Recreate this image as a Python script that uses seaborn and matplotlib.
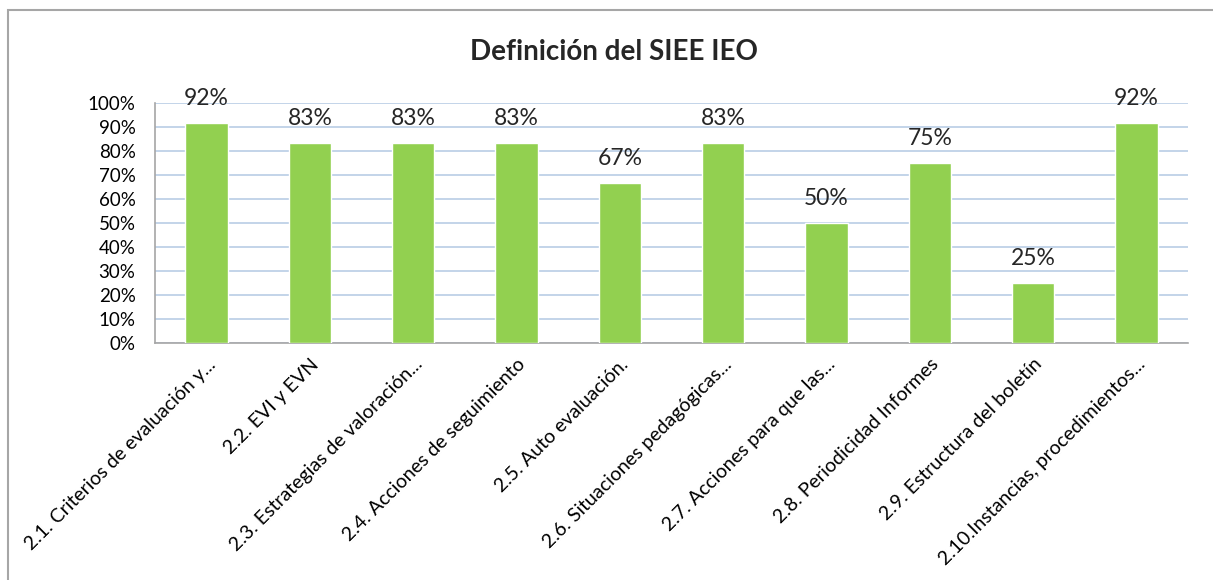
import matplotlib
matplotlib.use("Agg")
import matplotlib.pyplot as plt
import seaborn as sns
from matplotlib.patches import Rectangle
from matplotlib.ticker import PercentFormatter

# data
categorias = [
    "2.1. Criterios de evaluación y...",
    "2.2. EVI y EVN",
    "2.3. Estrategias de valoración...",
    "2.4. Acciones de seguimiento",
    "2.5. Auto evaluación.",
    "2.6. Situaciones pedagógicas...",
    "2.7. Acciones para que las...",
    "2.8. Periodicidad Informes",
    "2.9. Estructura del boletín",
    "2.10.Instancias, procedimientos...",
]
porcentajes = [91.7, 83.3, 83.3, 83.3, 66.7, 83.3, 50.0, 75.0, 25.0, 91.7]
titulo = "Definición del SIEE IEO"

sns.set_style("white")
plt.rcParams['font.family'] = ['Lato', 'DejaVu Sans']

fig = plt.figure(figsize=(12.13, 5.8), dpi=100)
ax = fig.add_axes([0.1278, 0.4086, 0.8516, 0.4138])

# marco exterior del gráfico
fig.patches.append(Rectangle((8 / 1213, -0.1), 1.2, 1 - 10 / 580 + 0.1,
                             transform=fig.transFigure, fill=False,
                             edgecolor='#A6A6A6', linewidth=1.5))

sns.barplot(x=categorias, y=porcentajes, color='#92D050', saturation=1,
            width=0.41, ax=ax, zorder=3)

ax.set_ylim(0, 100)
ax.set_yticks(range(0, 101, 10))
ax.yaxis.set_major_formatter(PercentFormatter(decimals=0))
ax.grid(axis='y', color='#B9CDE5', linewidth=1.2, zorder=0)
ax.set_axisbelow(True)

for side in ['top', 'right']:
    ax.spines[side].set_visible(False)
for side in ['left', 'bottom']:
    ax.spines[side].set_color('#A6A6A6')
    ax.spines[side].set_linewidth(1.2)

ax.tick_params(axis='y', length=0, pad=14, labelsize=13.5, colors='black')
ax.tick_params(axis='x', length=0, pad=9, labelsize=14, colors='black')
plt.setp(ax.get_xticklabels(), rotation=45, ha='right', rotation_mode='anchor')
ax.set_xlabel('')
ax.set_ylabel('')

etiquetas = [f"{round(v)}%" for v in porcentajes]
ax.bar_label(ax.containers[0], labels=etiquetas, padding=10, fontsize=16.5)

fig.text(0.506, 0.91, titulo, ha='center', va='center', fontsize=20,
         fontweight='bold')

fig.savefig('out.png', dpi=100)
